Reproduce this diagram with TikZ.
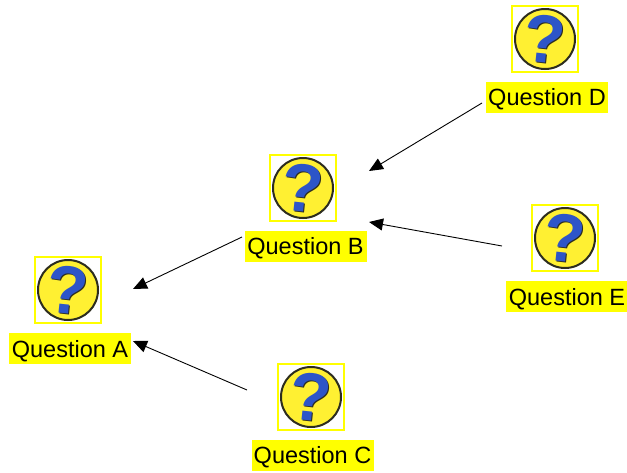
\documentclass[tikz,border=0pt]{standalone}
\usepackage{fontspec}
\setmainfont{Liberation Sans}
\usetikzlibrary{positioning, arrows.meta}
\definecolor{markyellow}{RGB}{255,255,0}
\definecolor{iconyellow}{RGB}{255,240,50}
\definecolor{iconblue}{RGB}{45,85,200}
\definecolor{iconedge}{RGB}{45,45,30}
\tikzset{
  iconbox/.style={draw=markyellow, line width=1.6pt, minimum size=66pt, inner sep=0pt},
  qmark/.style={inner sep=0pt, rotate=-6, font=\fontsize{68}{68}\bfseries\selectfont},
  qlabel/.style={fill=markyellow, inner sep=0pt, text height=24pt, text depth=7pt, minimum width=122pt, font=\fontsize{23.5}{24}\selectfont},
  link/.style={-{Triangle[length=14pt, width=12pt]}, line width=0.9pt},
}
\newcommand{\qicon}[2]{%
  \node[iconbox] (#1) at (#2) {};
  \draw[draw=iconedge, fill=iconyellow, line width=2pt] (#1.center) circle (30pt);
  \node[qmark, text=iconedge] (#1shade) at ([xshift=0.8pt, yshift=-0.8pt]#1.center) {?};
  \node[qmark, text=iconblue] (#1mark) at (#1.center) {?};
}
\begin{document}
\begin{tikzpicture}[x=1pt, y=-1pt]
    \useasboundingbox (0,0) rectangle (627,472);
    \qicon{iconA}{68,290}
    \qicon{iconB}{303,188}
    \qicon{iconC}{311,397}
    \qicon{iconD}{545,39}
    \qicon{iconE}{565,238}
    \node[qlabel] (labelA) at (70,348.5) {Question A};
    \node[qlabel] (labelB) at (305.5,246) {Question B};
    \node[qlabel] (labelC) at (312.5,455) {Question C};
    \node[qlabel] (labelD) at (547,97) {Question D};
    \node[qlabel] (labelE) at (567,296.5) {Question E};
    \coordinate (inA1) at (133,289);
    \coordinate (inA2) at (133,341);
    \coordinate (inB1) at (369,171);
    \coordinate (inB2) at (369,222);
    \coordinate (outB) at (242,237);
    \coordinate (outC) at (247,390);
    \coordinate (outD) at (482,103);
    \coordinate (outE) at (502,246);
    \draw[link] (outD) -- (inB1);
    \draw[link] (outE) -- (inB2);
    \draw[link] (outB) -- (inA1);
    \draw[link] (outC) -- (inA2);
\end{tikzpicture}
\end{document}
